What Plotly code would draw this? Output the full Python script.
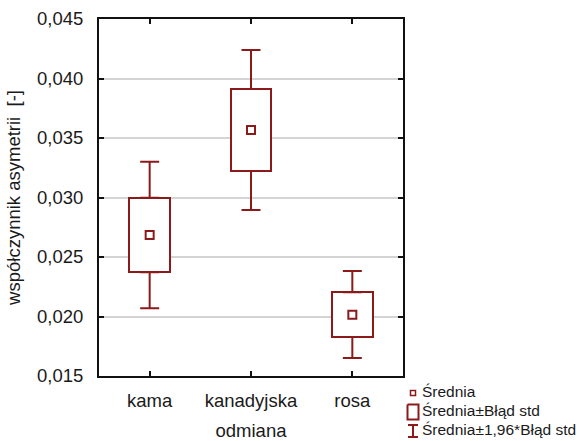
import plotly.graph_objects as go

# ---- data ----
categories = ["kama", "kanadyjska", "rosa"]
means = [0.02685, 0.03567, 0.02015]
box_low = [0.02371, 0.03223, 0.01828]
box_high = [0.02998, 0.03912, 0.02203]
whisker_low = [0.02069, 0.02895, 0.01651]
whisker_high = [0.03301, 0.04240, 0.02382]
y_ticks = [0.015, 0.020, 0.025, 0.030, 0.035, 0.040, 0.045]
legend_labels = ["Średnia", "Średnia±Błąd std", "Średnia±1,96*Błąd std"]
x_title = "odmiana"
y_title = "współczynnik asymetrii  [-]"

# ---- style ----
RED = "#8b1a1a"
TXT = "#1a1a1a"
FONT = "Liberation Sans, Arial, sans-serif"
W, H = 582, 441
ML, MT = 99, 19
PW, PH = W - ML, H - MT
plot_right = 403
plot_bottom = 376

xpos = list(range(len(categories)))

fig = go.Figure()

# boxes: mean ± standard error
fig.add_trace(go.Bar(
    x=xpos,
    y=[h - l for h, l in zip(box_high, box_low)],
    base=box_low,
    width=0.4,
    marker=dict(color="white", line=dict(color=RED, width=2)),
    showlegend=False, hoverinfo="skip",
))

# whiskers: mean ± 1.96*SE (upper and lower parts from box edges)
fig.add_trace(go.Scatter(
    x=xpos, y=box_high, mode="markers",
    marker=dict(size=1, color="rgba(0,0,0,0)"),
    error_y=dict(type="data", symmetric=False,
                 array=[w - b for w, b in zip(whisker_high, box_high)],
                 arrayminus=[0] * len(xpos),
                 color=RED, thickness=2, width=9.5),
    showlegend=False, hoverinfo="skip",
))
fig.add_trace(go.Scatter(
    x=xpos, y=box_low, mode="markers",
    marker=dict(size=1, color="rgba(0,0,0,0)"),
    error_y=dict(type="data", symmetric=False,
                 array=[0] * len(xpos),
                 arrayminus=[b - w for b, w in zip(box_low, whisker_low)],
                 color=RED, thickness=2, width=9.5),
    showlegend=False, hoverinfo="skip",
))

# means
fig.add_trace(go.Scatter(
    x=xpos, y=means, mode="markers",
    marker=dict(symbol="square-open", size=8, color=RED, line=dict(width=2, color=RED)),
    showlegend=False,
))

# ---- manual legend on an auxiliary pixel-like axis ----
row_y = [393, 412, 431]
sym_x = 413
fig.add_trace(go.Scatter(
    x=[sym_x], y=[row_y[0]], mode="markers", xaxis="x2", yaxis="y2",
    marker=dict(symbol="square-open", size=5, color=RED, line=dict(width=1.5, color=RED)),
    showlegend=False, hoverinfo="skip",
))
fig.add_trace(go.Scatter(
    x=[sym_x - 5.5, sym_x + 5.5, sym_x + 5.5, sym_x - 5.5, sym_x - 5.5],
    y=[row_y[1] - 7.5, row_y[1] - 7.5, row_y[1] + 7.5, row_y[1] + 7.5, row_y[1] - 7.5],
    mode="lines", xaxis="x2", yaxis="y2",
    line=dict(color=RED, width=2),
    showlegend=False, hoverinfo="skip",
))
fig.add_trace(go.Scatter(
    x=[sym_x], y=[row_y[2]], mode="markers", xaxis="x2", yaxis="y2",
    marker=dict(size=1, color="rgba(0,0,0,0)"),
    error_y=dict(type="data", array=[6], color=RED, thickness=2, width=5),
    showlegend=False, hoverinfo="skip",
))
fig.add_trace(go.Scatter(
    x=[422] * 3, y=row_y, mode="text", text=legend_labels,
    textposition="middle right", xaxis="x2", yaxis="y2",
    textfont=dict(family=FONT, size=15.5, color=TXT),
    showlegend=False, hoverinfo="skip",
))

axis_common = dict(
    showline=True, linecolor="#111111", linewidth=2, mirror="ticks",
    ticks="inside", ticklen=5, tickwidth=1.5, tickcolor="#111111",
    tickfont=dict(family=FONT, size=18.5, color=TXT),
    zeroline=False, automargin=False,
)

fig.update_layout(
    width=W, height=H, autosize=False,
    margin=dict(l=ML, r=0, t=MT, b=0, pad=0, autoexpand=False),
    paper_bgcolor="white", plot_bgcolor="white",
    separators=",.",
    font=dict(family=FONT, color=TXT),
    bargap=0,
    xaxis=dict(
        domain=[0, (plot_right - ML) / PW],
        range=[-0.5, 2.5], tickvals=xpos, ticktext=categories,
        showgrid=False, ticklabelstandoff=7,
        title=dict(text=x_title, font=dict(family=FONT, size=18.5, color=TXT), standoff=19),
        **axis_common,
    ),
    yaxis=dict(
        domain=[(H - plot_bottom) / PH, 1],
        range=[0.015, 0.045], tickvals=y_ticks, tickformat=".3f",
        showgrid=True, gridcolor="#d4d4d4", gridwidth=1.5,
        ticklabelstandoff=10,
        title=dict(text=y_title, font=dict(family=FONT, size=18.5, color=TXT), standoff=12),
        **axis_common,
    ),
    xaxis2=dict(domain=[(400 - ML) / PW, 1], range=[400, W], visible=False,
                anchor="y2", fixedrange=True, automargin=False),
    yaxis2=dict(domain=[0, (H - 380) / PH], range=[H, 380], visible=False,
                anchor="x2", fixedrange=True, automargin=False),
)

fig.write_html("out.html", config={"displayModeBar": False, "responsive": False},
               post_script="document.body.style.margin='0';")
